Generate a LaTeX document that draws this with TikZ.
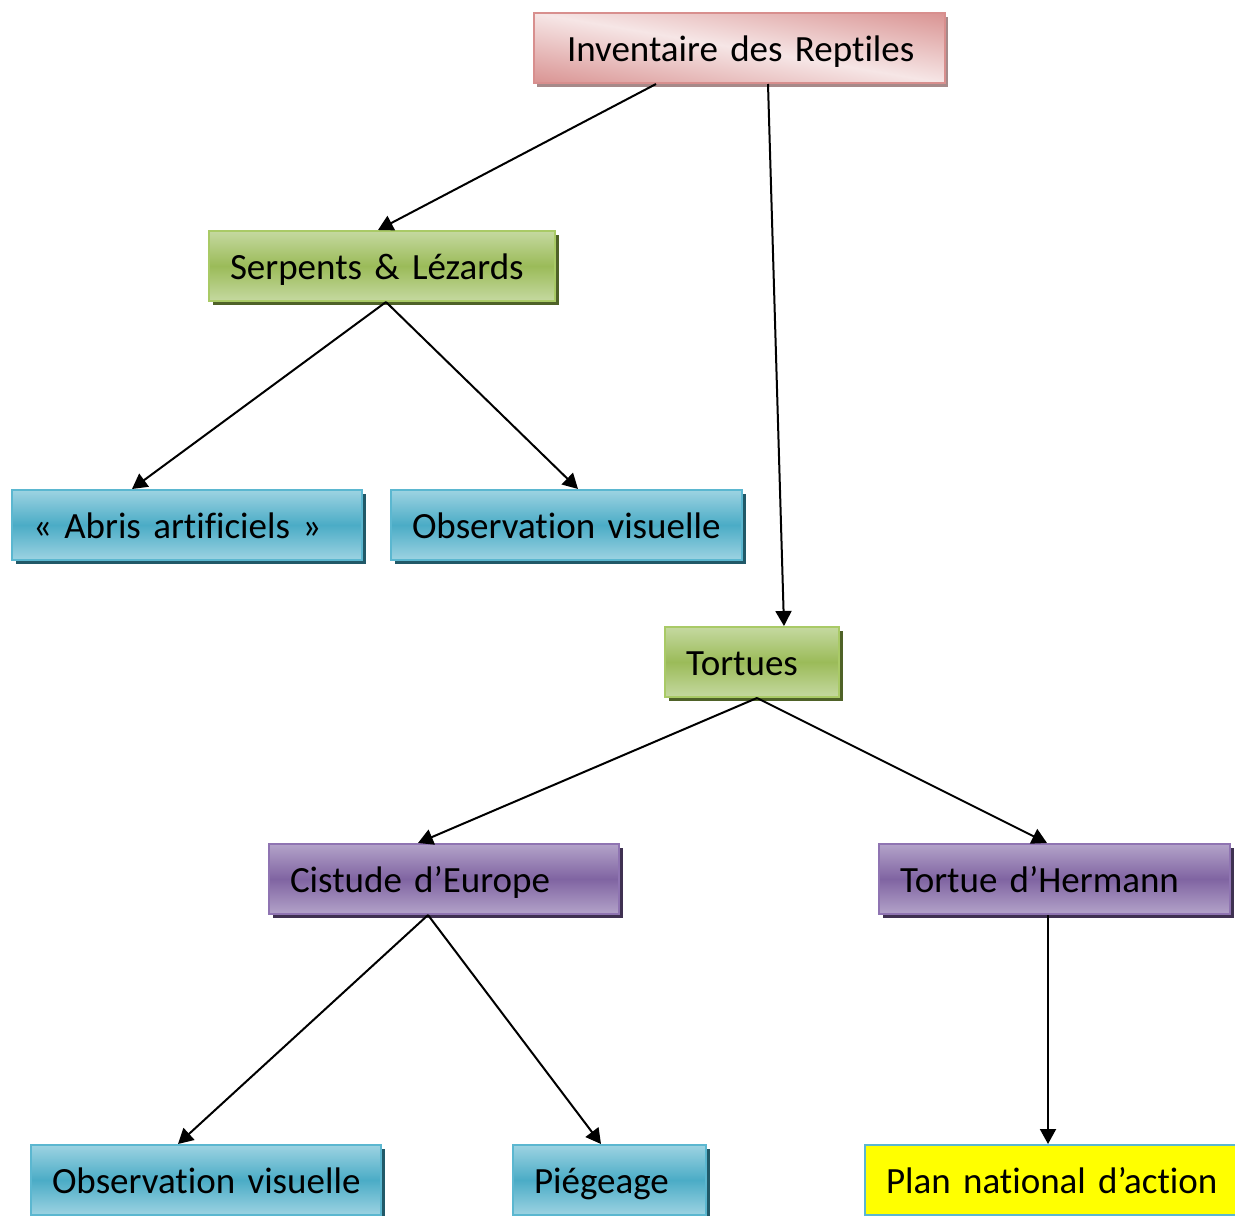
\documentclass[tikz,border=0pt]{standalone}
\usepackage{fontspec}
\setmainfont{Carlito}[Ligatures=NoCommon, WordSpace=0.85]
\usetikzlibrary{arrows.meta,shadows}
\definecolor{bluemid}{HTML}{4BACC6}
\definecolor{bluelight}{HTML}{9DD3E2}
\definecolor{blueborder}{HTML}{5BB7D0}
\definecolor{blueshadow}{HTML}{215968}
\definecolor{greenmid}{HTML}{9BBB59}
\definecolor{greenlight}{HTML}{C5D9A0}
\definecolor{greenborder}{HTML}{A9CA66}
\definecolor{greenshadow}{HTML}{4F6228}
\definecolor{purpmid}{HTML}{8064A2}
\definecolor{purplight}{HTML}{B3A3C9}
\definecolor{purpborder}{HTML}{8F74B2}
\definecolor{purpshadow}{HTML}{3F3151}
\definecolor{pinkdark}{HTML}{D8908F}
\definecolor{pinklight}{HTML}{F6E6E6}
\definecolor{pinkborder}{HTML}{D88F8E}
\definecolor{pinkshadow}{HTML}{A68A8A}
\definecolor{yellowfill}{HTML}{FFFF00}
\tikzset{
  boxbase/.style={anchor=north west, inner xsep=21pt, inner ysep=0pt, align=left,
    minimum height=70pt, line width=2pt, text height=30pt, text depth=4pt,
    font=\fontsize{37}{44}\selectfont},
  bluebox/.style={boxbase, draw=blueborder, top color=bluelight, bottom color=bluelight, middle color=bluemid,
    general shadow={shadow xshift=4pt, shadow yshift=-4pt, fill=blueshadow}},
  greenbox/.style={boxbase, draw=greenborder, top color=greenlight, bottom color=greenlight, middle color=greenmid,
    general shadow={shadow xshift=4pt, shadow yshift=-4pt, fill=greenshadow}},
  purpbox/.style={boxbase, draw=purpborder, top color=purplight, bottom color=purplight, middle color=purpmid,
    general shadow={shadow xshift=4pt, shadow yshift=-4pt, fill=purpshadow}},
  pinkbox/.style={boxbase, inner xsep=33pt, draw=pinkborder, fill=pinklight,
    path picture={
      \begin{scope}[transform canvas={rotate around={-9.7:(path picture bounding box.center)}}]
        \shade[top color=pinkdark, bottom color=pinkdark, middle color=pinklight]
          ([shift={(-260pt,-72pt)}]path picture bounding box.center) rectangle
          ([shift={(260pt,72pt)}]path picture bounding box.center);
      \end{scope}},
    general shadow={shadow xshift=3pt, shadow yshift=-4pt, fill=pinkshadow}},
  yellowbox/.style={boxbase, draw=blueborder, fill=yellowfill},
  conn/.style={line width=2pt, -{Triangle[length=15pt,width=16pt]}}
}
\begin{document}
\begin{tikzpicture}[x=1pt,y=-1pt]
\useasboundingbox[fill=white] (0,0) rectangle (1235,1216);
\node[pinkbox, text width=345pt] (inv) at (533,12) {\mbox{Inventaire des Reptiles}};
\node[greenbox, text width=304pt] (ser) at (208,230) {\mbox{Serpents \& Lézards}};
\node[bluebox, text width=308pt] (abr) at (11,489) {\mbox{« Abris artificiels »}};
\node[bluebox, text width=309pt] (obs1) at (390,489) {\mbox{Observation visuelle}};
\node[greenbox, text width=132pt] (tor) at (664,626) {\mbox{Tortues}};
\node[purpbox, text width=308pt] (cis) at (268,843) {\mbox{Cistude d’Europe}};
\node[purpbox, text width=309pt] (her) at (878,843) {\mbox{Tortue d’Hermann}};
\node[bluebox, text width=308pt] (obs2) at (30,1144) {\mbox{Observation visuelle}};
\node[bluebox, text width=151pt] (pie) at (512,1144) {\mbox{Piégeage}};
\node[yellowbox, text width=340pt] (pla) at (864,1144) {\mbox{Plan national d’action}};

\draw[conn] ([xshift=123pt]inv.south west) -- ([xshift=170pt]ser.north west);
\draw[conn] ([xshift=235pt]inv.south west) -- ([xshift=120pt]tor.north west);
\draw[conn] ([xshift=178pt]ser.south west) -- ([xshift=121pt]abr.north west);
\draw[conn] ([xshift=178pt]ser.south west) -- ([xshift=188pt]obs1.north west);
\draw[conn] ([xshift=93pt]tor.south west) -- ([xshift=150pt]cis.north west);
\draw[conn] ([xshift=93pt]tor.south west) -- ([xshift=169pt]her.north west);
\draw[conn] ([xshift=160pt]cis.south west) -- ([xshift=148pt]obs2.north west);
\draw[conn] ([xshift=160pt]cis.south west) -- ([xshift=89pt]pie.north west);
\draw[conn] ([xshift=170pt]her.south west) -- ([xshift=184pt]pla.north west);
\end{tikzpicture}
\end{document}
